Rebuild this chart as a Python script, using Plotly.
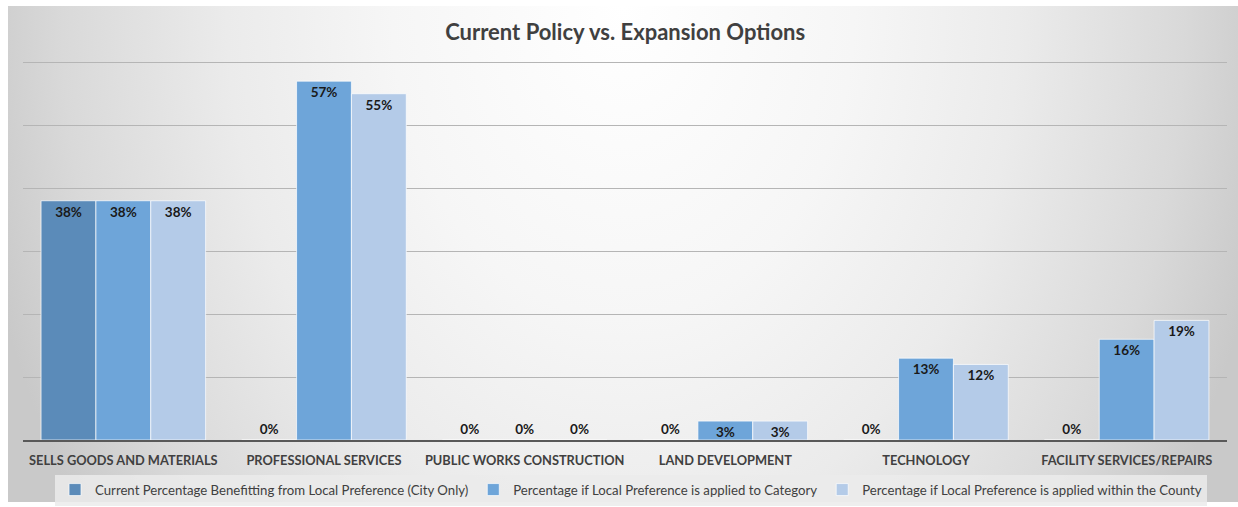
import base64
import plotly.graph_objects as go

categories = ["SELLS GOODS AND MATERIALS", "PROFESSIONAL SERVICES", "PUBLIC WORKS CONSTRUCTION",
              "LAND DEVELOPMENT", "TECHNOLOGY", "FACILITY SERVICES/REPAIRS"]
series_names = ["Current Percentage Benefitting from Local Preference (City Only)",
                "Percentage if Local Preference is applied to Category",
                "Percentage if Local Preference is applied within the County"]
current_city = [0.38, 0.00, 0.00, 0.00, 0.00, 0.00]
applied_category = [0.38, 0.57, 0.00, 0.03, 0.13, 0.16]
applied_county = [0.38, 0.55, 0.00, 0.03, 0.12, 0.19]
colors = ["#5b8bb9", "#6ea5d9", "#b4cbe8"]

W, H = 1230, 496
PLOT_H = 379
svg = (f'<svg xmlns="http://www.w3.org/2000/svg" width="{W}" height="{H}" viewBox="0 0 {W} {H}" preserveAspectRatio="none">'
       '<defs><radialGradient id="g" gradientUnits="userSpaceOnUse" cx="615" cy="0" r="660" '
       'gradientTransform="translate(615 0) scale(1 1.35) translate(-615 0)">'
       '<stop offset="0" stop-color="#ffffff"/><stop offset="0.35" stop-color="#f6f6f6"/>'
       '<stop offset="0.6" stop-color="#ebebeb"/><stop offset="0.85" stop-color="#d9d9d9"/>'
       '<stop offset="1" stop-color="#c9c9c9"/></radialGradient></defs>'
       f'<rect width="{W}" height="{H}" fill="url(#g)"/></svg>')
src = "data:image/svg+xml;base64," + base64.b64encode(svg.encode()).decode()

fig = go.Figure()
for name, vals, col in zip(series_names, [current_city, applied_category, applied_county], colors):
    fig.add_trace(go.Bar(
        x=categories, y=vals, name=name,
        marker=dict(color=col, line=dict(color="rgba(255,255,255,0.7)", width=1)),
        text=[f"{v:.0%}" for v in vals],
        textposition=["outside" if v == 0 else "inside" for v in vals],
        insidetextanchor="end",
        constraintext="none",
        textfont=dict(family="Lato", size=13.5, color="#1a1a1a", weight="bold"),
        cliponaxis=False,
    ))

fig.update_layout(
    width=1238, height=507,
    barmode="group", bargap=0.18, bargroupgap=0,
    paper_bgcolor="white", plot_bgcolor="rgba(0,0,0,0)",
    margin=dict(l=23, r=11, t=61, b=67, autoexpand=False),
    title=dict(text="<b>Current Policy vs. Expansion Options</b>", x=0.505, xanchor="center",
               y=1 - 32 / 507, yanchor="middle",
               font=dict(family="Lato", size=22, color="#404040")),
    font=dict(family="Lato", color="#404040"),
    showlegend=True,
    legend=dict(orientation="h", x=0.505, xanchor="center", yref="container", y=1 - 490 / 507,
                yanchor="middle",
                bgcolor="rgba(235,235,235,0.85)", font=dict(family="Lato", size=13.2, color="#404040"),
                itemwidth=30, traceorder="normal"),
    images=[dict(source=src, xref="paper", yref="paper", x=-15 / 1204, y=1 + 55 / PLOT_H,
                 sizex=W / 1204, sizey=H / PLOT_H, xanchor="left", yanchor="top",
                 sizing="stretch", layer="below")],
)
fig.update_xaxes(showline=True, linecolor="#595959", linewidth=2, ticks="", automargin=False,
                 ticklabelstandoff=8,
                 tickfont=dict(family="Lato", size=12.8, color="#404040", weight="bold"),
                 showgrid=False)
fig.update_yaxes(range=[0, 0.602], dtick=0.1, showticklabels=False, showgrid=True, automargin=False,
                 gridcolor="#b5b5b5", gridwidth=1.3, zeroline=False)

fig.write_html("out.html", config={"displayModeBar": False},
               post_script="document.body.style.margin='0';")
